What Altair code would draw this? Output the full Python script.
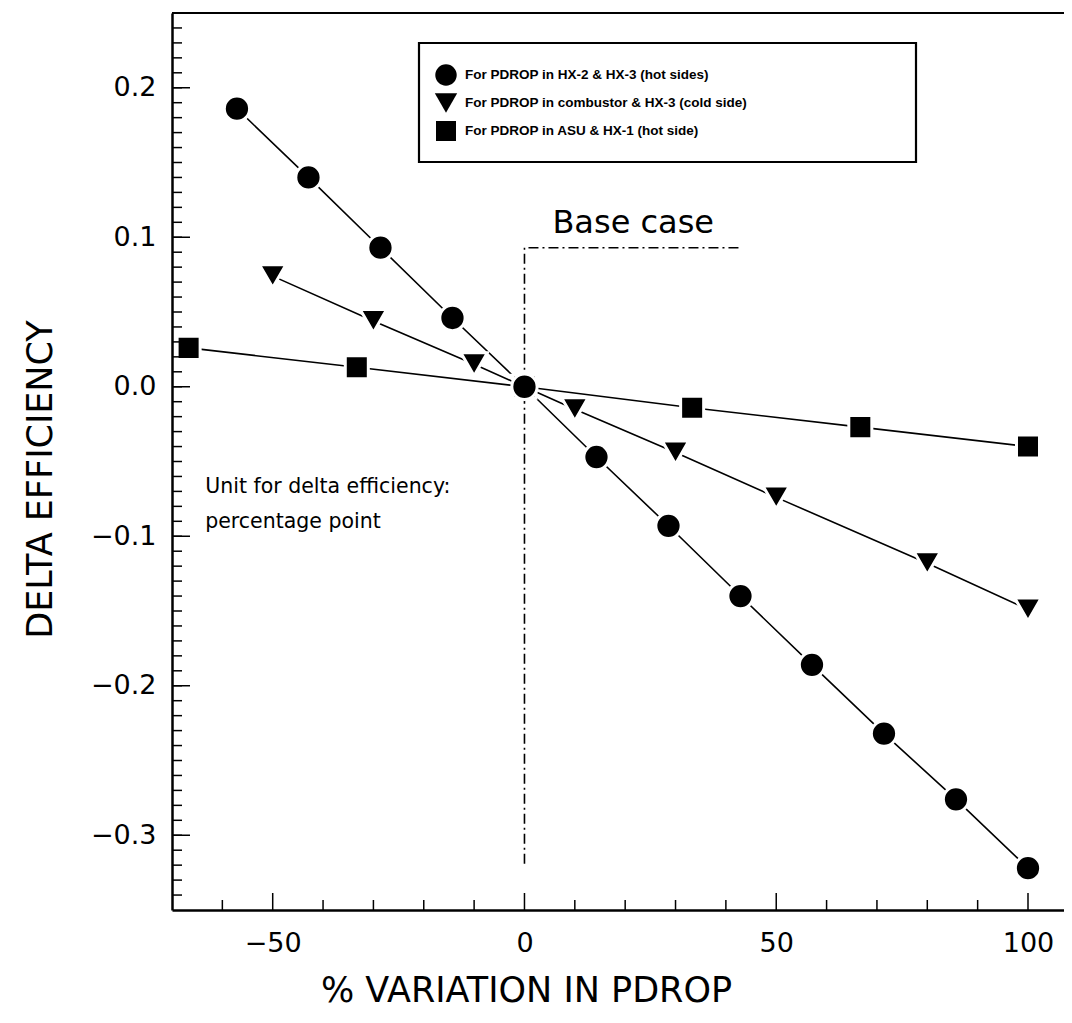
import altair as alt
import pandas as pd

# ---- data ----
circ_x = [-57.1, -42.9, -28.6, -14.3, 0.0, 14.3, 28.6, 42.9, 57.1, 71.4, 85.7, 100.0]
circ_y = [0.186, 0.140, 0.093, 0.046, 0.0, -0.047, -0.093, -0.140, -0.186, -0.232, -0.276, -0.322]
tri_x = [-50, -30, -10, 0, 10, 30, 50, 80, 100]
tri_y = [0.074, 0.044, 0.015, 0.0, -0.015, -0.044, -0.074, -0.118, -0.149]
sq_x = [-66.7, -33.3, 0.0, 33.3, 66.7, 100.0]
sq_y = [0.026, 0.013, 0.0, -0.014, -0.027, -0.040]

series_names = [
    "For PDROP in HX-2 & HX-3 (hot sides)",
    "For PDROP in combustor & HX-3 (cold side)",
    "For PDROP in ASU & HX-1 (hot side)",
]

base_x = [42.5, 0.0, 0.0]
base_y = [0.093, 0.093, -0.32]

x_major = [-50, 0, 50, 100]
x_minor = [-60, -40, -30, -20, -10, 10, 20, 30, 40, 60, 70, 80, 90]
y_major = [-0.3, -0.2, -0.1, 0.0, 0.1, 0.2]
y_minor = [round(-0.34 + 0.01 * i, 2) for i in range(59)]

note_base = "Base case"
note_unit = ["Unit for delta efficiency:", "percentage point"]

# ---- layout ----
W, H = 892, 897
FONT = "DejaVu Sans"
xs = alt.Scale(domain=[-70, 107.15], nice=False, zero=False)
ys = alt.Scale(domain=[-0.35, 0.25], nice=False, zero=False)

series_x = [circ_x, tri_x, sq_x]
series_y = [circ_y, tri_y, sq_y]
shapes = ["circle", "triangle-down", "square"]
sizes = [640, 700, 530]
leg_sizes = [460, 500, 400]

xaxis = alt.Axis(values=x_major, format="d", ticks=False, tickSize=0, grid=False,
                 domainColor="black", domainWidth=2.5, labelFont=FONT, labelFontSize=27,
                 labelColor="black", labelPadding=20,
                 title="% VARIATION IN PDROP", titleFont=FONT, titleFontSize=35,
                 titleFontWeight="normal", titleColor="black", titleX=354, titleY=80,
                 titleAlign="center", titleBaseline="middle")
yaxis = alt.Axis(values=y_major, format=".1f", ticks=False, tickSize=0, grid=False,
                 domainColor="black", domainWidth=2.5, labelFont=FONT, labelFontSize=27,
                 labelColor="black", labelPadding=16,
                 title="DELTA EFFICIENCY", titleFont=FONT, titleFontSize=35,
                 titleFontWeight="normal", titleColor="black", titleX=-132, titleY=466,
                 titleAngle=270, titleAlign="center", titleBaseline="middle")


def X(field):
    return alt.X(field, scale=xs, axis=xaxis)


def Y(field):
    return alt.Y(field, scale=ys, axis=yaxis)


layers = []

# series lines
for i in range(3):
    d = pd.DataFrame({"x": series_x[i], "y": series_y[i]})
    layers.append(
        alt.Chart(d).mark_line(color="black", strokeWidth=1.6).encode(
            x=X("x:Q"), y=Y("y:Q"), order="x:Q")
    )

# base case dash-dot line
bd = pd.DataFrame({"x": base_x, "y": base_y, "o": list(range(len(base_x)))})
layers.append(
    alt.Chart(bd).mark_line(color="black", strokeWidth=1.6, strokeDash=[10, 4, 2, 4]).encode(
        x=X("x:Q"), y=Y("y:Q"), order="o:Q")
)

# markers (squares, triangles, circles on top)
for i in [2, 1, 0]:
    d = pd.DataFrame({"x": series_x[i], "y": series_y[i]})
    layers.append(
        alt.Chart(d).mark_point(shape=shapes[i], size=sizes[i], filled=True, fill="black",
                                stroke="white", strokeWidth=3, opacity=1).encode(
            x=X("x:Q"), y=Y("y:Q"))
    )

# inward ticks
one = pd.DataFrame({"a": [0]})
layers.append(alt.Chart(pd.DataFrame({"y": y_minor})).mark_rule(color="black", strokeWidth=1.5).encode(
    y=Y("y:Q"), x=alt.value(0), x2=alt.value(10)))
layers.append(alt.Chart(pd.DataFrame({"y": y_major})).mark_rule(color="black", strokeWidth=1.5).encode(
    y=Y("y:Q"), x=alt.value(0), x2=alt.value(18)))
layers.append(alt.Chart(pd.DataFrame({"x": x_minor})).mark_rule(color="black", strokeWidth=1.5).encode(
    x=X("x:Q"), y=alt.value(H), y2=alt.value(H - 10)))
layers.append(alt.Chart(pd.DataFrame({"x": x_major})).mark_rule(color="black", strokeWidth=1.5).encode(
    x=X("x:Q"), y=alt.value(H), y2=alt.value(H - 17)))
# top frame line
layers.append(alt.Chart(one).mark_rule(color="black", strokeWidth=2).encode(
    x=alt.value(0), x2=alt.value(W), y=alt.value(0)))

# annotations
layers.append(alt.Chart(pd.DataFrame({"x": [21.6], "y": [0.1095], "t": [note_base]})).mark_text(
    font=FONT, fontSize=32, color="black", align="center", baseline="middle").encode(
    x=X("x:Q"), y=Y("y:Q"), text="t:N"))
layers.append(alt.Chart(pd.DataFrame({"x": [-63.4, -63.4], "y": [-0.067, -0.0905], "t": note_unit})).mark_text(
    font=FONT, fontSize=20.5, color="black", align="left", baseline="middle").encode(
    x=X("x:Q"), y=Y("y:Q"), text="t:N"))

# legend box
layers.append(alt.Chart(one).mark_rect(fillOpacity=0, stroke="black", strokeWidth=2.2).encode(
    x=alt.value(247), x2=alt.value(744), y=alt.value(30), y2=alt.value(149)))
for i in range(3):
    layers.append(alt.Chart(one).mark_point(shape=shapes[i], size=leg_sizes[i], filled=True,
                                            fill="black", opacity=1, strokeWidth=0).encode(
        x=alt.value(274), y=alt.value(62 + 28 * i)))
    layers.append(alt.Chart(pd.DataFrame({"t": [series_names[i]]})).mark_text(
        font="Liberation Sans", fontWeight="bold", fontSize=13.5, color="black",
        align="left", baseline="middle").encode(
        x=alt.value(293), y=alt.value(62 + 28 * i), text="t:N"))

chart = alt.layer(*layers).properties(
    width=W, height=H,
    autosize=alt.AutoSizeParams(type="none"),
    padding={"left": 164, "top": 5, "right": 0, "bottom": 100},
    background="white",
).configure_view(stroke="transparent")

chart.save("out.html", embed_options={"renderer": "svg", "actions": False})
